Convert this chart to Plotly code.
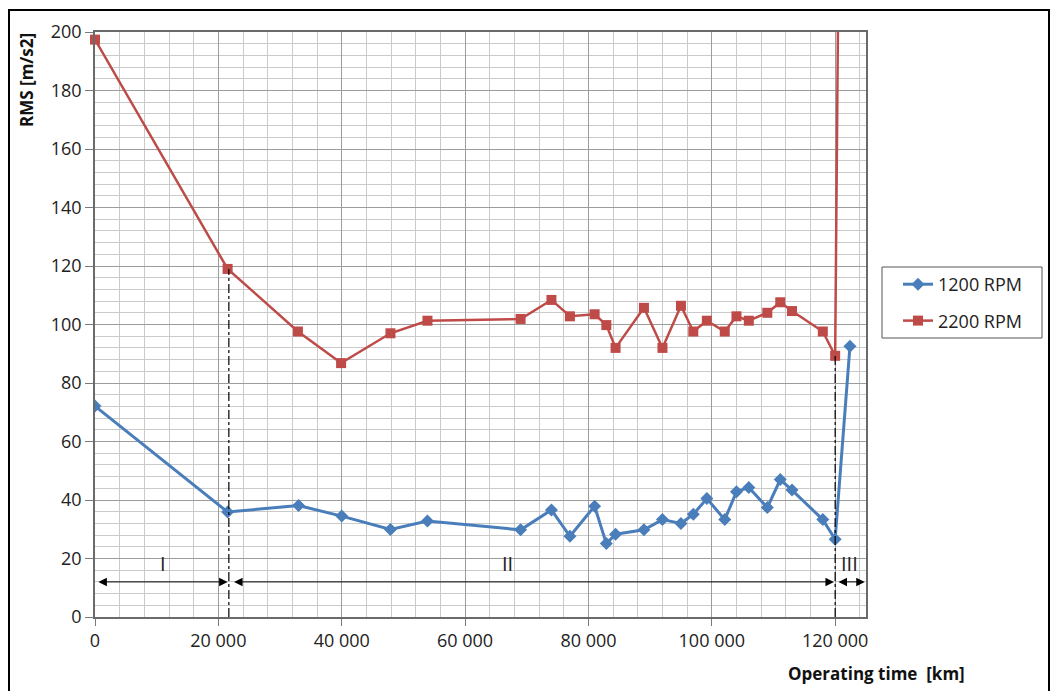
import plotly.graph_objects as go

# ---- data ----
km_1200 = [0, 21500, 33000, 40000, 47900, 53900, 69000, 74000, 77000, 81000, 82900, 84400, 89000,
           92000, 95000, 97000, 99200, 102100, 104000, 106000, 109000, 111100, 113000, 118000, 120000, 122400]
rms_1200 = [72.1, 35.9, 38.1, 34.5, 29.9, 32.8, 29.8, 36.6, 27.6, 37.9, 25.1, 28.3, 29.8,
            33.3, 32.0, 35.1, 40.5, 33.3, 42.8, 44.3, 37.4, 47.0, 43.4, 33.3, 26.6, 92.6]

km_2200 = [0, 21500, 32900, 39900, 47900, 53900, 69000, 74000, 77000, 81000, 82900, 84400, 89000,
           92000, 95000, 97000, 99200, 102100, 104000, 106000, 109000, 111100, 113000, 118000, 120000, 122400]
rms_2200 = [197.4, 119.0, 97.6, 86.8, 97.0, 101.3, 101.9, 108.4, 102.8, 103.5, 99.8, 92.0, 105.7,
            92.0, 106.4, 97.6, 101.3, 97.6, 102.8, 101.3, 104.0, 107.6, 104.6, 97.6, 89.3, 690]

x_tickvals = [0, 20000, 40000, 60000, 80000, 100000, 120000]
x_ticktext = ["0", "20 000", "40 000", "60 000", "80 000", "100 000", "120 000"]
y_tickvals = [0, 20, 40, 60, 80, 100, 120, 140, 160, 180, 200]

# phase boundaries and labels
phase_bounds = [0, 21700, 120000, 124800]
phase_labels = ["I", "II", "III"]
phase_label_x = [11000, 66900, 122400]
arrow_y = 12
label_y = 18.4
boundary_tops = [119.0, 89.3]

BLUE = "#4A7EBB"
RED = "#BE4B48"
FONT = "Open Sans"

# plot-area pixel geometry helpers (paper coordinates)
PL, PR, PT, PB = 95, 866, 32, 617
def px(xp):
    return (xp - PL) / (PR - PL)
def py(yp):
    return (PB - yp) / (PB - PT)

fig = go.Figure()
fig.add_trace(go.Scatter(x=km_1200, y=rms_1200, mode="lines+markers", name="1200 RPM",
                         line=dict(color=BLUE, width=3),
                         marker=dict(symbol="diamond", size=10, color=BLUE),
                         legendgroup="a"))
fig.add_trace(go.Scatter(x=km_2200, y=rms_2200, mode="lines+markers", name="2200 RPM",
                         line=dict(color=RED, width=2.5),
                         marker=dict(symbol="square", size=10, color=RED),
                         legendgroup="b", cliponaxis=False))

# dash-dot boundaries
for bx, top in zip(phase_bounds[1:3], boundary_tops):
    fig.add_shape(type="line", xref="x", yref="y", x0=bx, x1=bx, y0=0, y1=top,
                  line=dict(color="black", width=1.2, dash="dashdot"))

# double arrows
arrow_spans = [(300, 21500), (22300, 119800), (120300, 124800)]
for a, b in arrow_spans:
    fig.add_annotation(x=b, y=arrow_y, ax=a, ay=arrow_y, xref="x", yref="y", axref="x", ayref="y",
                       text="", showarrow=True, arrowhead=2, arrowside="end+start",
                       arrowsize=1.7, arrowwidth=1, arrowcolor="black", standoff=0, startstandoff=0)
for lx, lt in zip(phase_label_x, phase_labels):
    fig.add_annotation(x=lx, y=label_y, xref="x", yref="y", text=lt, showarrow=False,
                       font=dict(family=FONT, size=20, color="#222"))

# x axis title (bottom right)
fig.add_annotation(x=px(876), y=py(673), xref="paper", yref="paper",
                   text="<b>Operating time&nbsp; [km]</b>", showarrow=False,
                   xanchor="center", yanchor="middle",
                   font=dict(family=FONT, size=17, color="#111"))
# y axis title (top left, rotated)
fig.add_annotation(x=px(26), y=py(80), xref="paper", yref="paper",
                   text="<b>RMS [m/s2]</b>", showarrow=False, textangle=-90,
                   xanchor="center", yanchor="middle",
                   font=dict(family=FONT, size=17, color="#111"))

# legend frame
fig.add_shape(type="rect", xref="paper", yref="paper",
              x0=px(882), x1=px(1042), y0=py(338), y1=py(267),
              line=dict(color="#555", width=1), fillcolor="white", layer="below")

# outer frame
fig.add_shape(type="rect", xref="paper", yref="paper",
              x0=px(9), x1=px(1049), y0=-0.3, y1=py(10),
              line=dict(color="black", width=2))

fig.update_xaxes(range=[0, 125000], tickvals=x_tickvals, ticktext=x_ticktext,
                 showgrid=True, gridcolor="#9c9c9c", gridwidth=1,
                 minor=dict(dtick=4000, tick0=0, showgrid=True, gridcolor="#cacaca", gridwidth=1),
                 ticks="outside", ticklen=7, tickcolor="#7a7a7a",
                 showline=True, linecolor="#6a6a6a", linewidth=1.5, mirror=True,
                 zeroline=False, tickfont=dict(family=FONT, size=18, color="#222"))
fig.update_yaxes(range=[0, 200], tickvals=y_tickvals,
                 showgrid=True, gridcolor="#9c9c9c", gridwidth=1,
                 minor=dict(dtick=4, tick0=0, showgrid=True, gridcolor="#cacaca", gridwidth=1),
                 ticks="outside", ticklen=8, tickcolor="#7a7a7a",
                 showline=True, linecolor="#6a6a6a", linewidth=1.5, mirror=True,
                 zeroline=False, tickfont=dict(family=FONT, size=18, color="#222"))

fig.update_layout(
    width=1055, height=691,
    margin=dict(l=PL, r=1055 - PR, t=PT, b=691 - PB),
    paper_bgcolor="white", plot_bgcolor="white",
    showlegend=True,
    legend=dict(x=px(898), y=py(266), xanchor="left", yanchor="top",
                borderwidth=0, bgcolor="rgba(0,0,0,0)",
                tracegroupgap=10, traceorder="grouped",
                font=dict(family=FONT, size=18, color="#222")),
)

fig.write_html("out.html")
